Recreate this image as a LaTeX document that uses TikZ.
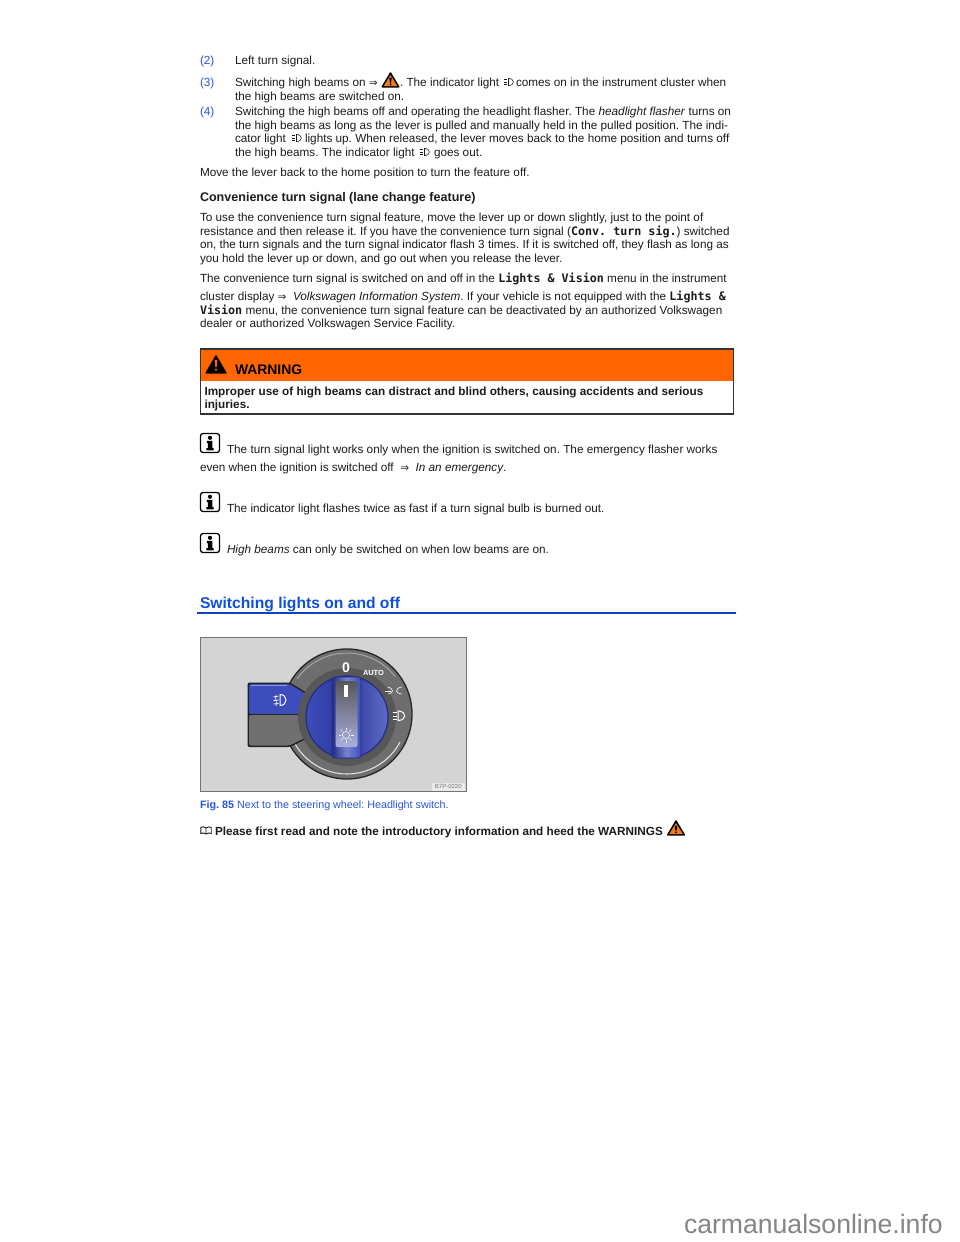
\documentclass[tikz,border=0pt]{standalone}
\usepackage{fontspec}
\setmainfont{Liberation Sans}
\newfontfamily\monob{DejaVu Sans Mono}
\newfontfamily\arrowf{DejaVu Sans}
\definecolor{ink}{HTML}{1C1C1C}
\definecolor{lnk}{HTML}{2A55DD}
\definecolor{head}{HTML}{0E4FE0}
\definecolor{orng}{HTML}{FF6600}
\definecolor{tri}{HTML}{F07A1A}
\definecolor{knob}{HTML}{3D4DBB}
\definecolor{knobd}{HTML}{232C86}
\definecolor{ring}{HTML}{6E6E6E}
\newcounter{nn}
\newcommand\tx[4][]{\stepcounter{nn}\node[txt,#1] (t\arabic{nn}) at (#2,#3) {\frenchspacing #4};}
\newcommand\M[1]{{\monob\bfseries\fontsize{11.7}{13}\selectfont #1}}
\newcommand\Ar{{\arrowf\fontsize{10.5}{11}\selectfont ⇒}}
\tikzset{
  txt/.style={anchor=base west,inner sep=0pt,outer sep=0pt,text=ink,font=\fontsize{11.75}{13.5}\selectfont},
  bd/.style={font=\fontsize{11.75}{13.5}\selectfont\bfseries},
  lk/.style={text=lnk},
  whitesym/.style={draw=white,line width=0.7pt},
  hb/.pic={
    \draw[ink,line width=0.55pt] (0,-2.5)--(3.6,-2.5) (0,0)--(3.6,0) (0,2.5)--(3.6,2.5);
    \draw[ink,line width=0.65pt] (5,-3.5) .. controls (11.5,-3.5) and (11.5,3.5) .. (5,3.5) -- cycle;
  },
  warntri/.pic={
    \fill[black,rounded corners=1pt] (0,-8.5)--(9.5,7.5)--(-9.5,7.5)--cycle;
    \fill[tri] (0,-5)--(6.8,6)--(-6.8,6)--cycle;
    \fill[black] (-1.3,-2.5)--(1.3,-2.5)--(0.6,2.5)--(-0.6,2.5)--cycle;
    \fill[black] (0,4.3) circle (1.05);
  },
  infoicon/.pic={
    \draw[black,line width=1.3pt,fill=white,rounded corners=2.5pt] (-9.5,-9.5) rectangle (9.5,9.5);
    \fill[black] (0,-5.2) circle (2.1);
    \fill[black] (-3.2,-2.2)--(2.3,-2.2)--(2.3,5)--(3.6,5)--(3.6,7.4)--(-3.6,7.4)--(-3.6,5)--(-2.2,5)--(-2.2,0)--(-3.2,0)--cycle;
  },
}
\begin{document}
\begin{tikzpicture}[x=1pt,y=-1pt]
\useasboundingbox (0,0) rectangle (960,1242);
\fill[white] (0,0) rectangle (960,1242);

% numbered list
\tx[lk]{200}{64}{(2)}
\tx{235}{64}{Left turn signal.}
\tx[lk]{200}{86}{(3)}
\tx{235}{86}{Switching high beams on \Ar}
\pic at (390.5,80) {warntri};
\tx{400}{86}{. The indicator light}
\pic at (503.5,82) {hb};
\tx{516}{86}{comes on in the instrument cluster when}
\tx{235}{100}{the high beams are switched on.}
\tx[lk]{200}{115}{(4)}
\tx{235}{115}{Switching the high beams off and operating the headlight flasher. The \textit{headlight flasher} turns on}
\tx{235}{129}{the high beams as long as the lever is pulled and manually held in the pulled position. The indi-}
\tx{235}{142}{cator light}
\pic at (291.5,138) {hb};
\tx{305}{142}{lights up. When released, the lever moves back to the home position and turns off}
\tx{235}{156}{the high beams. The indicator light}
\pic at (419.5,152) {hb};
\tx{434}{156}{goes out.}
\tx{200}{176}{Move the lever back to the home position to turn the feature off.}

% convenience
\tx[font=\fontsize{12.55}{14}\selectfont\bfseries]{200}{201}{Convenience turn signal (lane change feature)}
\tx{200}{221}{To use the convenience turn signal feature, move the lever up or down slightly, just to the point of}
\tx{200}{235}{resistance and then release it. If you have the convenience turn signal (\M{Conv. turn sig.}) switched}
\tx{200}{248}{on, the turn signals and the turn signal indicator flash 3 times. If it is switched off, they flash as long as}
\tx{200}{262}{you hold the lever up or down, and go out when you release the lever.}
\tx{200}{282}{The convenience turn signal is switched on and off in the \M{Lights \& Vision} menu in the instrument}
\tx{200}{300}{cluster display \Ar\ \ \textit{Volkswagen Information System}. If your vehicle is not equipped with the \M{Lights \&}}
\tx{200}{314}{\M{Vision} menu, the convenience turn signal feature can be deactivated by an authorized Volkswagen}
\tx{200}{327}{dealer or authorized Volkswagen Service Facility.}

% warning box
\fill[white] (200,349) rectangle (734,414);
\fill[orng] (200,349) rectangle (734,381);
\node[draw=black!80,line width=1.1pt,minimum width=533pt,minimum height=65pt,anchor=north west,inner sep=0pt,outer sep=0pt] (wbox) at (200.5,349) {};
\fill[black,rounded corners=1pt] (216,354.5)--(227,373.5)--(205,373.5)--cycle;
\fill[orng] (214.7,360)--(217.3,360)--(216.7,367)--(215.3,367)--cycle;
\fill[orng] (216,369.6) circle (1.3);
\tx[font=\fontsize{13.9}{16}\selectfont\bfseries,text=black]{235}{374}{WARNING}
\tx[bd]{204.5}{395}{Improper use of high beams can distract and blind others, causing accidents and serious}
\tx[bd]{204.5}{408}{injuries.}

% notes
\pic at (210,443) {infoicon};
\tx{227}{453}{The turn signal light works only when the ignition is switched on. The emergency flasher works}
\tx{200}{471}{even when the ignition is switched off \ \Ar\ \ \textit{In an emergency}.}
\pic at (210,502) {infoicon};
\tx{227}{512}{The indicator light flashes twice as fast if a turn signal bulb is burned out.}
\pic at (210,543) {infoicon};
\tx{227}{553}{\textit{High beams} can only be switched on when low beams are on.}

% heading
\tx[font=\fontsize{15.65}{18}\selectfont\bfseries,text=head]{200}{608}{Switching lights on and off}
\draw[head!85!black,line width=1.6pt] (197,613.2) -- (735.5,613.2);

% figure
\node[draw=black!55,line width=0.8pt,fill=black!17,minimum width=266pt,minimum height=154pt,anchor=north west,inner sep=0pt,outer sep=0pt] (fig) at (200,637) {};
% ring
\fill[ring] (347,714) circle (65);
\draw[black!85,line width=1.3pt] (347,714) circle (65);
\draw[black!12,line width=1.1pt] (347,714) +(28:60) arc (28:152:60);
\draw[black!35,line width=1pt] (347,714) +(215:61) arc (215:322:61);
% left button
\fill[black!88,rounded corners=2pt] (247.5,682.5) -- (290,682.5) -- (312,696) -- (312,736) -- (290,747) -- (247.5,747) -- cycle;
\fill[knob,rounded corners=2pt] (249,684) -- (289.5,684) -- (311,697) -- (311,714) -- (249,714) -- cycle;
\fill[black!56,rounded corners=2pt] (249,715) -- (311,715) -- (311,735) -- (289.5,745.5) -- (249,745.5) -- cycle;
\draw[black!85,line width=0.9pt] (249,714.5) -- (305,714.5);
\draw[knob!60!white,line width=0.9pt] (251,685.3) -- (287,685.3);
% gap round the knob
\fill[black!66] (347,717) circle (49);
% knob
\shade[left color=knob,right color=knob!82!white,middle color=knobd!70!knob] (347,717) circle (41);
\draw[knobd,line width=1.2pt] (347,717) circle (41);
% lever
\shade[left color=knobd,right color=knob,middle color=knob!70!white,rounded corners=3pt] (332,677) rectangle (361,758);
\draw[knobd,line width=0.8pt,rounded corners=3pt] (332,677) rectangle (361,758);
\shade[top color=black!66,bottom color=knob!45!white,rounded corners=2pt] (335.5,681) rectangle (357.5,747);
\fill[white] (344.3,685) rectangle (347.7,697);
% symbols
\tx[font=\fontsize{14}{16}\selectfont\bfseries,text=white]{342}{672}{0}
\tx[font=\fontsize{7.4}{9}\selectfont\bfseries,text=white]{363}{675.5}{AUTO}
\draw[whitesym,line width=0.5pt] (346,735) circle (3.6);
\foreach \a in {0,45,...,315} \draw[whitesym,line width=0.5pt] (346,735) ++(\a:5) -- ++(\a:2.5);
\draw[whitesym,line width=0.6pt] (388,687) .. controls (391,687.5) and (392,689) .. (392.5,691) .. controls (392,692.5) and (391,693.5) .. (388,694);
\draw[whitesym,line width=0.6pt] (402,687) .. controls (398,687.5) and (397,689) .. (396.5,691) .. controls (397,692.5) and (398,693.5) .. (402,694);
\draw[whitesym,line width=0.5pt] (385,691) -- (391,691);
\draw[whitesym,line width=1pt] (398,711) .. controls (407,711) and (407,720.5) .. (398,720.5) -- cycle;
\draw[whitesym,line width=0.9pt] (392.5,712.5) -- (396.5,712.5) (392.5,716) -- (396.5,716) (392.5,719.5) -- (396.5,719.5);
\draw[whitesym,line width=1pt] (280,694.5) .. controls (288,694.5) and (288,705.5) .. (280,705.5) -- cycle;
\draw[whitesym,line width=0.8pt] (273.5,697) -- (278.5,696) (273.5,700.5) -- (278.5,700) (273.5,704) -- (278.5,703.5);
\draw[whitesym,line width=0.6pt] (276,695) .. controls (274.5,698) and (277.5,702) .. (276,706);
% code tag
\node[fill=black!8,minimum width=33pt,minimum height=8pt,inner sep=0pt,anchor=south east,text=black!55,font=\fontsize{6}{7}\selectfont] (tag) at (465,791) {B7P-0220};

% caption
\tx[font=\fontsize{10.75}{12.5}\selectfont,text=lnk]{200}{808}{\textbf{Fig. 85} Next to the steering wheel: Headlight switch.}
\draw[ink,line width=0.9pt] (206,828) .. controls (204,826.5) and (202,826.5) .. (200.8,827.5) -- (200.8,833.5) .. controls (202,832.7) and (204,832.7) .. (206,834) .. controls (208,832.7) and (210,832.7) .. (211.2,833.5) -- (211.2,827.5) .. controls (210,826.5) and (208,826.5) .. (206,828) -- (206,834);
\tx[bd]{215}{835}{Please first read and note the introductory information and heed the WARNINGS}
\pic at (676,828) {warntri};

% watermark
\tx[font=\fontsize{26.6}{30}\selectfont,text=black!48]{684}{1233}{carmanualsonline.info}
\end{tikzpicture}
\end{document}
